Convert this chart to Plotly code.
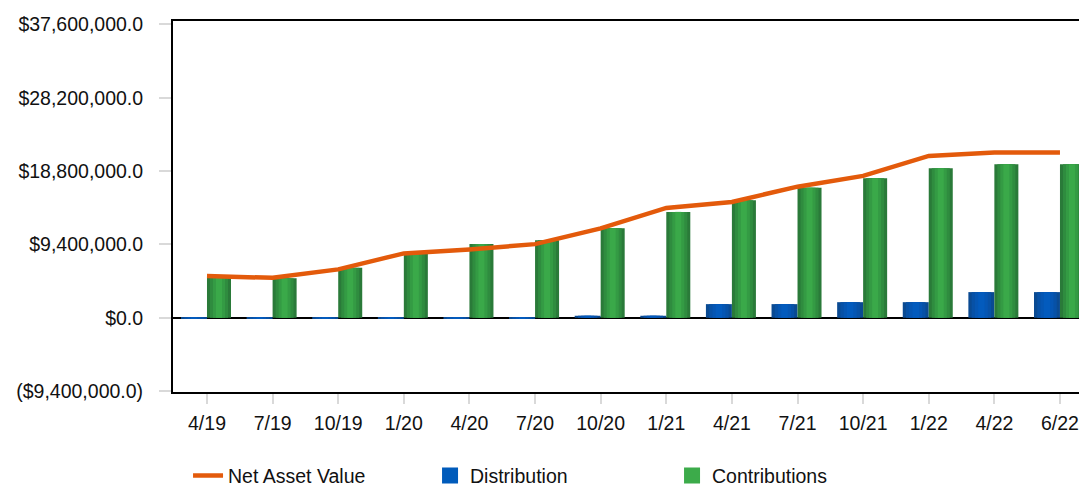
import plotly.graph_objects as go

categories = ['4/19', '7/19', '10/19', '1/20', '4/20', '7/20', '10/20', '1/21',
              '4/21', '7/21', '10/21', '1/22', '4/22', '6/22']
net_asset_value = [5.34, 5.12, 6.20, 8.25, 8.76, 9.44, 11.45, 14.08,
                   14.85, 16.80, 18.18, 20.74, 21.18, 21.18]
distribution = [-0.15, -0.15, -0.15, -0.15, -0.15, -0.15, 0.26, 0.26,
                1.75, 1.75, 2.00, 2.00, 3.29, 3.29]
contributions = [5.12, 5.05, 6.40, 8.16, 9.44, 9.95, 11.48, 13.57,
                 15.07, 16.65, 17.89, 19.17, 19.68, 19.68]
y_tick_values = [-9.4, 0.0, 9.4, 18.8, 28.2, 37.6]
y_tick_labels = ['($9,400,000.0)', '$0.0', '$9,400,000.0', '$18,800,000.0',
                 '$28,200,000.0', '$37,600,000.0']

M = 1e6
FONT = 'Liberation Sans, Arial, sans-serif'
FS = 19.5

fig = go.Figure()

def add_gradient_bars(values, start, width, shades, name):
    n = len(shades)
    for k, col in enumerate(shades):
        f = 1.0 - k / n
        w = width * f
        off = start + (width - w) / 2
        fig.add_trace(go.Bar(
            x=categories, y=[v * M for v in values], name=name,
            offset=off, width=w, marker=dict(color=col, line=dict(width=0)),
            showlegend=False, hoverinfo='skip' if k else None))

blue_shades = ['#0a4a92', '#0751a6', '#0556b3', '#035bbd']
green_shades = ['#2a7a39', '#2f8c3f', '#349b44', '#3aa949']
add_gradient_bars(distribution, -0.396, 0.396, blue_shades, 'Distribution')
add_gradient_bars(contributions, 0.0, 0.366, green_shades, 'Contributions')

fig.add_trace(go.Scatter(
    x=categories, y=[v * M for v in net_asset_value], mode='lines',
    name='Net Asset Value', line=dict(color='#e35a0b', width=4.5)))

# legend proxies
fig.add_trace(go.Scatter(x=[None], y=[None], mode='markers', name='Distribution',
                         marker=dict(symbol='square', size=23, color='#005bbb')))
fig.add_trace(go.Scatter(x=[None], y=[None], mode='markers', name='Contributions',
                         marker=dict(symbol='square', size=23, color='#3cab4a')))

fig.update_layout(
    width=1079, height=487,
    margin=dict(l=173, r=0, t=21, b=95, autoexpand=False),
    paper_bgcolor='white', plot_bgcolor='white',
    barmode='overlay',
    font=dict(family=FONT, size=FS, color='#111111'),
    showlegend=True,
    legend=dict(orientation='h', x=0.0166, xanchor='left', y=-0.226, yanchor='middle',
                font=dict(family=FONT, size=FS, color='#111111'),
                itemsizing='trace', entrywidth=197, entrywidthmode='pixels',
                traceorder='normal'),
)
fig.update_xaxes(
    type='category', range=[-0.518, 13.29], automargin=False,
    showline=True, linecolor='black', linewidth=2, mirror=True,
    ticks='outside', ticklen=10, tickwidth=2, tickcolor='#d9d9d9',
    showgrid=False, zeroline=False, ticklabelstandoff=3,
    tickfont=dict(family=FONT, size=FS, color='#111111'),
)
fig.update_yaxes(
    range=[-9.51 * M, 38.03 * M], automargin=False,
    tickvals=[v * M for v in y_tick_values], ticktext=y_tick_labels,
    showline=True, linecolor='black', linewidth=2, mirror=False,
    ticks='outside', ticklen=12, tickwidth=2, tickcolor='#d9d9d9',
    showgrid=False, zeroline=True, zerolinecolor='black', zerolinewidth=2,
    ticklabelstandoff=12,
    tickfont=dict(family=FONT, size=FS, color='#111111'),
)

# remove the default page margin so the figure fills the window exactly
fig.write_html('out.html',
               config={'displayModeBar': False},
               post_script="document.body.style.margin='0';"
                           "document.body.style.overflow='hidden';")
